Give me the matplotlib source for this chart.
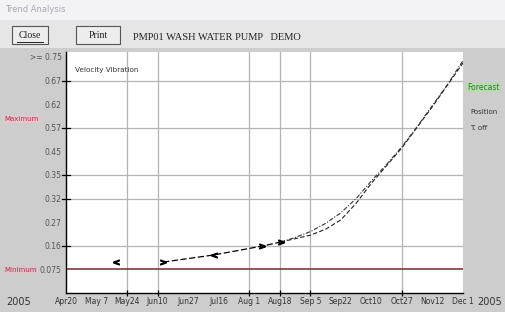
import matplotlib
matplotlib.use("Agg")
import matplotlib.pyplot as plt
from matplotlib.patches import Rectangle
from matplotlib.lines import Line2D

W, H = 506, 312

x_labels = ["Apr20", "May 7", "May24", "Jun10", "Jun27", "Jul16", "Aug 1",
            "Aug18", "Sep 5", "Sep22", "Oct10", "Oct27", "Nov12", "Dec 1"]
y_labels = ["0.075", "0.16", "0.27", "0.32", "0.35", "0.45", "0.57", "0.62", "0.67", ">= 0.75"]
x_grid = [2, 3, 6, 7, 8, 11]
y_grid = [2, 4, 5, 7, 9]
y_min_line = 1

# measured points (x = date-label index, y = scale index)
iso_x, iso_y = [1.64], [1.31]
meas_x = [3.18, 4.83, 6.43, 7.03]
meas_y = [1.31, 1.61, 1.99, 2.16]
meas_mk = [">", "<", ">", ">"]
trend_a_x = [7.03, 8.0, 8.5, 9.0, 9.5, 10.0, 10.5, 11.0, 12.0, 13.0]
trend_a_y = [2.16, 2.45, 2.70, 3.10, 3.80, 4.65, 5.40, 6.15, 7.90, 9.75]
trend_b_x = [7.03, 7.5, 8.0, 8.5, 9.0, 9.5, 10.0, 10.5, 11.0, 11.5, 12.0, 12.5, 13.0]
trend_b_y = [2.16, 2.35, 2.60, 2.95, 3.40, 4.00, 4.75, 5.45, 6.20, 7.05, 7.95, 8.85, 9.85]

fig = plt.figure(figsize=(W / 100, H / 100), dpi=100)
fig.patch.set_facecolor("#cdcdcd")

def px(x, y):
    return x / W, 1 - y / H

# window title bar and toolbar
fig.patches.append(Rectangle((0, 1 - 20 / H), 1, 20 / H, transform=fig.transFigure,
                             facecolor="#f3f3f6", edgecolor="none", zorder=0))
fig.patches.append(Rectangle((0, 1 - 48 / H), 1, 28 / H, transform=fig.transFigure,
                             facecolor="#e6e6e6", edgecolor="none", zorder=0))
fig.text(*px(5, 10), "Trend Analysis", fontsize=6, color="#a8a8b4", va="center",
         family="DejaVu Sans")
for (bx0, bx1, lab) in [(12, 48, "Close"), (76, 120, "Print")]:
    fig.patches.append(Rectangle(px(bx0, 44), (bx1 - bx0) / W, 18 / H, transform=fig.transFigure,
                                 facecolor="#ededed", edgecolor="#555555", linewidth=0.8, zorder=1))
    fig.text(*px((bx0 + bx1) / 2, 36), lab, fontsize=7, ha="center", va="center",
             family="Liberation Serif", color="#222222")
fig.add_artist(Line2D([px(17, 0)[0], px(43, 0)[0]], [px(0, 42)[1]] * 2,
                      transform=fig.transFigure, color="#222222", linewidth=0.7))
fig.text(*px(133, 37), "PMP01 WASH WATER PUMP   DEMO", fontsize=7.5, va="center",
         family="Liberation Serif", color="#222222")

# main axes
x0, x1, y0, y1 = 66, 463, 293, 52
ax = fig.add_axes([x0 / W, 1 - y0 / H, (x1 - x0) / W, (y0 - y1) / H])
ax.set_facecolor("white")
ax.set_xlim(0, 13)
ax.set_ylim(0, (y0 - y1) / 23.6)
for s in ["top", "right"]:
    ax.spines[s].set_visible(False)
for s in ["left", "bottom"]:
    ax.spines[s].set_color("black")
    ax.spines[s].set_linewidth(1)

for gx in x_grid:
    ax.axvline(gx, color="#b4b4b4", linewidth=0.9, zorder=1)
for gy in y_grid:
    ax.axhline(gy, color="#b4b4b4", linewidth=0.9, zorder=1)
ax.axhline(y_min_line, color="#7a2630", linewidth=1.1, zorder=2)

ax.set_xticks(x_grid)
ax.set_xticklabels([])
ax.tick_params(axis="x", direction="inout", length=5, width=0.9)
ax.set_yticks(list(range(1, 11)))
ax.set_yticklabels(y_labels, fontsize=5.5, color="#555555", family="DejaVu Sans")
ax.tick_params(axis="y", direction="inout", length=0, pad=3)
for gy in y_grid:
    ax.plot([-0.12, 0.12], [gy, gy], color="black", linewidth=0.9, clip_on=False, zorder=3)

# date labels
for i, lab in enumerate(x_labels):
    xd = ax.transData.transform((i, 0))[0]
    xf = fig.transFigure.inverted().transform((xd, 0))[0]
    fig.text(xf, 1 - 302 / H, lab, fontsize=5.5, ha="center", va="center", color="#333333")
fig.text(*px(19, 302), "2005", fontsize=7, ha="center", va="center", color="#333333")
fig.text(*px(490, 302), "2005", fontsize=7, ha="center", va="center", color="#333333")

# data
ax.plot(iso_x, iso_y, linestyle="none", marker="$<$", markersize=4, color="black", zorder=5)
ax.plot(meas_x, meas_y, linestyle=(0, (5, 2)), color="black", linewidth=0.9, zorder=5)
for mx, my, mk in zip(meas_x, meas_y, meas_mk):
    ax.plot([mx], [my], marker="$" + mk + "$", markersize=4, color="black",
            linestyle="none", zorder=6)
ax.plot(trend_a_x, trend_a_y, linestyle=(0, (4, 2)), color="#222222", linewidth=0.8, zorder=4)
ax.plot(trend_b_x, trend_b_y, linestyle=(0, (4, 1.5, 1, 1.5)), color="#333333", linewidth=0.8,
        zorder=4)

ax.text(0.28, 9.45, "Velocity Vibration", fontsize=5.2, color="#333333", va="center")

# side labels
fig.text(*px(4, 119), "Maximum", fontsize=5, color="#b03050", va="center",
         bbox=dict(boxstyle="square,pad=0.1", facecolor="#e8c6cc", edgecolor="none"))
fig.text(*px(4, 270), "Minimum", fontsize=5, color="#b03050", va="center",
         bbox=dict(boxstyle="square,pad=0.1", facecolor="#dcc4c8", edgecolor="none"))
fig.text(*px(467, 87), "Forecast", fontsize=5.5, color="#2f7a2f", va="center",
         bbox=dict(boxstyle="square,pad=0.1", facecolor="#b8dcb0", edgecolor="none"))
fig.text(*px(470, 112), "Position", fontsize=5, color="#333333", va="center")
fig.text(*px(470, 128), "T. off", fontsize=5, color="#333333", va="center")

fig.savefig("out.png", dpi=100, facecolor=fig.get_facecolor())
